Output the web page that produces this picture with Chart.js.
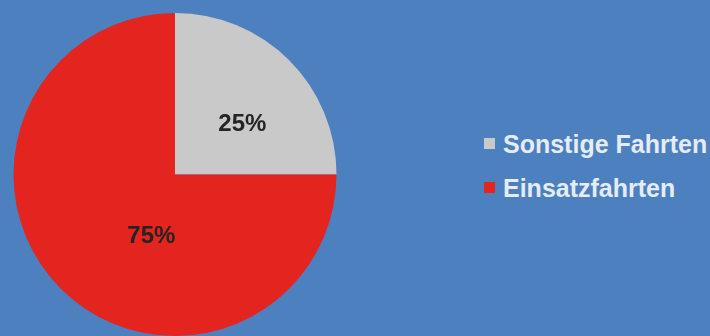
<!DOCTYPE html>
<html>
<head>
<meta charset="utf-8">
<script src="https://cdn.jsdelivr.net/npm/chart.js@4.4.0/dist/chart.umd.min.js"></script>
<style>
  html, body { margin: 0; padding: 0; background: #4d80bf; }
  #wrap { position: relative; width: 710px; height: 336px; overflow: hidden; }
  #pieBox { position: absolute; left: 0; top: 0; width: 350px; height: 336px; }
  #legend { position: absolute; left: 484px; top: 122px; margin: 0; padding: 0; list-style: none;
            font: bold 25px "Liberation Sans", Arial, sans-serif; color: #e4ecf8; }
  #legend li { position: relative; height: 44px; line-height: 44px; padding-left: 19px; white-space: nowrap; }
  #legend .box { position: absolute; left: 0; top: 16px; width: 11px; height: 11px; }
</style>
</head>
<body>
<div id="wrap">
  <div id="pieBox"><canvas id="chartFahrten"></canvas></div>
  <ul id="legend"></ul>
</div>
<script>
// ===== DATA =====
const labels = ['Sonstige Fahrten', 'Einsatzfahrten'];
const values = [25, 75];
const colors = ['#c8c9c8', '#e4241f'];

// percent labels inside the slices
const sliceLabels = {
  id: 'sliceLabels',
  afterDatasetsDraw(chart, args, opts) {
    const meta = chart.getDatasetMeta(0);
    const data = chart.data.datasets[0].data;
    const total = data.reduce((a, b) => a + b, 0);
    const ctx = chart.ctx;
    ctx.save();
    ctx.font = 'bold 24px "Liberation Sans", Arial, sans-serif';
    ctx.fillStyle = '#242424';
    ctx.textAlign = 'center';
    ctx.textBaseline = 'middle';
    meta.data.forEach((arc, i) => {
      const p = arc.getProps(['x', 'y', 'startAngle', 'endAngle', 'outerRadius'], true);
      const a = (p.startAngle + p.endAngle) / 2 + opts.angleShift[i];
      const r = p.outerRadius * opts.dist[i];
      ctx.fillText(Math.round(data[i] / total * 100) + '%', p.x + Math.cos(a) * r, p.y + Math.sin(a) * r);
    });
    ctx.restore();
  }
};

// simple html legend from chart data
function buildLegend(chart) {
  const ul = document.getElementById('legend');
  ul.innerHTML = '';
  chart.data.labels.forEach((lab, i) => {
    const li = document.createElement('li');
    const box = document.createElement('span');
    box.className = 'box';
    box.style.background = chart.data.datasets[0].backgroundColor[i];
    li.appendChild(box);
    li.appendChild(document.createTextNode(lab));
    ul.appendChild(li);
  });
}

const chart = new Chart(document.getElementById('chartFahrten').getContext('2d'), {
  type: 'pie',
  data: {
    labels,
    datasets: [{
      data: values,
      backgroundColor: colors,
      borderWidth: 0
    }]
  },
  options: {
    responsive: true,
    maintainAspectRatio: false,
    animation: false,
    layout: { padding: { top: 13, bottom: 0 } },
    plugins: {
      legend: { display: false },
      tooltip: { enabled: false },
      sliceLabels: { dist: [0.52, 0.41], angleShift: [0.145, -0.42] }
    }
  },
  plugins: [sliceLabels]
});

buildLegend(chart);
</script>
</body>
</html>
